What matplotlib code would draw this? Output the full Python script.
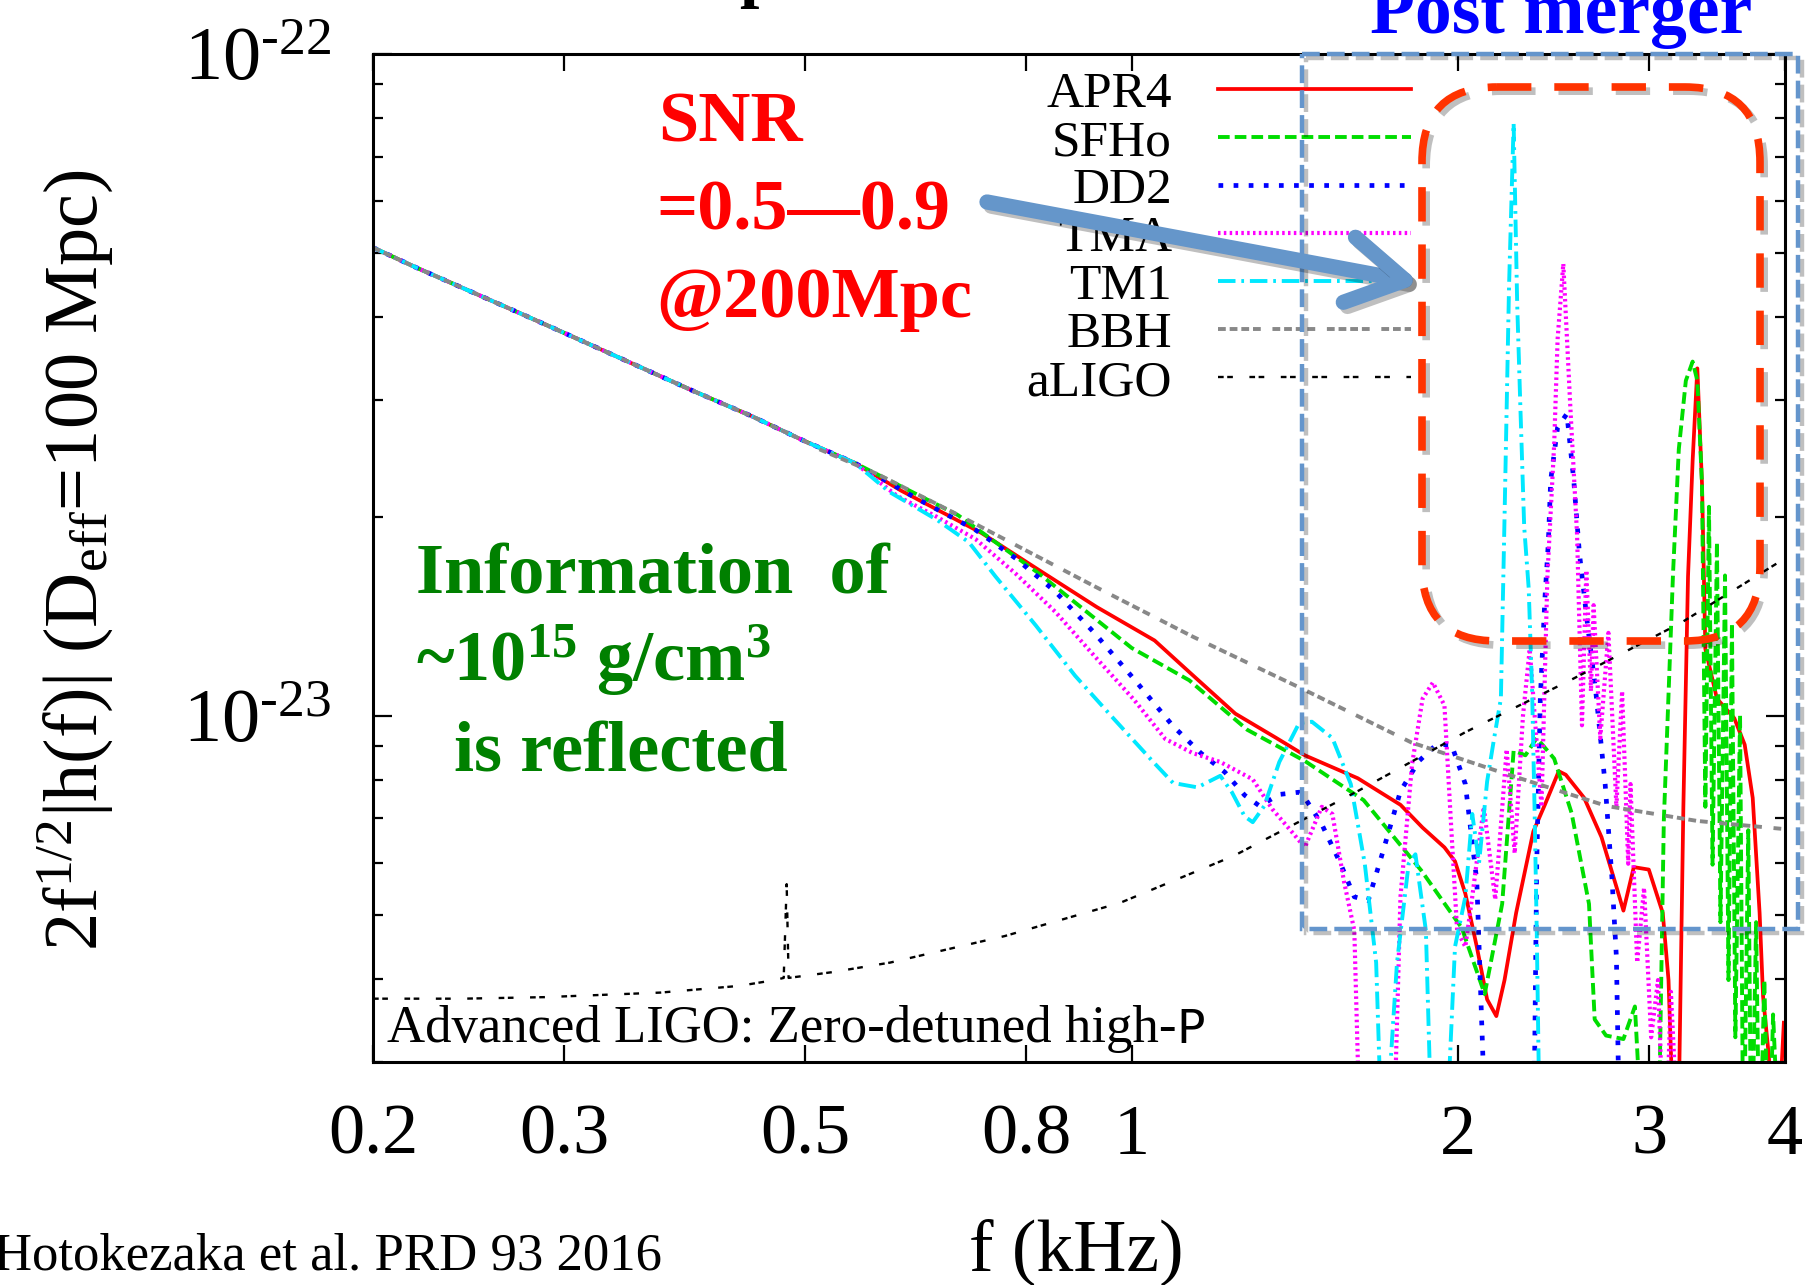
import matplotlib
matplotlib.use('Agg')
import matplotlib.pyplot as plt
import matplotlib.patches as mpatches
import matplotlib.patheffects as pe
from matplotlib.ticker import FixedLocator, LogLocator, NullFormatter

plt.rcParams['font.family'] = 'Liberation Serif'
plt.rcParams['mathtext.fontset'] = 'custom'
plt.rcParams['mathtext.rm'] = 'Liberation Serif'
plt.rcParams['mathtext.it'] = 'Liberation Serif:italic'
plt.rcParams['mathtext.bf'] = 'Liberation Serif:bold'

# frequency in kHz, amplitude 2 f^1/2 |h(f)| in units of 1e-23
# inspiral part, common to every model
f_insp = [0.200, 0.219, 0.242, 0.273, 0.300, 0.349, 0.394, 0.446, 0.500, 0.556]
h_insp = [5.10, 4.76, 4.43, 4.06, 3.79, 3.39, 3.10, 2.84, 2.60, 2.41]

f_apr4 = f_insp + [0.613, 0.727, 0.822, 0.929, 1.050, 1.130, 1.246, 1.358, 1.444, 1.616,
                   1.769, 1.854, 1.942, 1.986, 2.030, 2.080, 2.126, 2.168, 2.206, 2.261,
                   2.345, 2.403, 2.475, 2.512, 2.612, 2.710, 2.797, 2.839, 2.902, 2.996,
                   3.086, 3.124, 3.154, 3.185, 3.224, 3.256, 3.288, 3.321, 3.354, 3.378,
                   3.462, 3.592, 3.672, 3.735, 3.790, 3.818, 3.865, 3.923, 3.990]
h_apr4 = h_insp + [2.19, 1.89, 1.66, 1.46, 1.30, 1.165, 1.008, 0.927, 0.872, 0.805,
                   0.734, 0.678, 0.633, 0.603, 0.539, 0.448, 0.373, 0.352, 0.399, 0.504,
                   0.669, 0.734, 0.825, 0.815, 0.752, 0.656, 0.552, 0.508, 0.591, 0.586,
                   0.504, 0.399, 0.25, 0.20, 0.729, 1.625, 2.43, 3.35, 2.24, 1.262,
                   1.062, 0.992, 0.905, 0.752, 0.504, 0.377, 0.306, 0.20, 0.344]

f_sfho = f_insp + [0.692, 0.822, 1.000, 1.130, 1.278, 1.444, 1.636, 1.849, 2.015, 2.090,
                   2.115, 2.195, 2.249, 2.306, 2.362, 2.451, 2.543, 2.639, 2.671, 2.736,
                   2.839, 2.909, 2.966, 3.055, 3.093, 3.154, 3.193, 3.241, 3.288, 3.321,
                   3.354, 3.378, 3.404, 3.430, 3.462, 3.488, 3.522, 3.548, 3.574, 3.600,
                   3.636, 3.662, 3.700, 3.725, 3.762, 3.790, 3.828, 3.865, 3.900, 3.960]
h_sfho = h_insp + [2.01, 1.64, 1.267, 1.132, 0.953, 0.855, 0.746, 0.584, 0.478, 0.402,
                   0.380, 0.520, 0.886, 0.872, 0.926, 0.862, 0.714, 0.520, 0.348, 0.329,
                   0.325, 0.364, 0.20, 0.20, 0.694, 1.64, 2.53, 3.21, 3.43, 3.21,
                   2.24, 0.729, 2.07, 0.596, 1.83, 0.488, 1.63, 0.399, 1.38, 0.327,
                   1.004, 0.20, 0.672, 0.20, 0.488, 0.20, 0.399, 0.20, 0.354, 0.20]

f_dd2 = f_insp + [0.634, 0.718, 0.782, 0.851, 0.924, 1.005, 1.092, 1.158, 1.219, 1.271,
                  1.312, 1.368, 1.427, 1.444, 1.497, 1.558, 1.604, 1.652, 1.705, 1.769,
                  1.840, 1.909, 1.971, 2.030, 2.080, 2.126, 2.244, 2.345, 2.362, 2.380,
                  2.403, 2.421, 2.433, 2.469, 2.518, 2.555, 2.586, 2.630, 2.677, 2.731,
                  2.770, 2.797, 2.820]
h_dd2 = h_insp + [2.13, 1.91, 1.73, 1.54, 1.335, 1.137, 0.965, 0.879, 0.822, 0.759,
                  0.731, 0.761, 0.767, 0.752, 0.686, 0.598, 0.533, 0.526, 0.625, 0.770,
                  0.855, 0.905, 0.905, 0.789, 0.563, 0.20, 0.20, 0.20, 0.598, 1.062,
                  1.50, 1.83, 2.27, 2.73, 2.86, 2.27, 1.76, 1.38, 1.09, 0.789,
                  0.573, 0.432, 0.20]

f_tma = f_insp + [0.608, 0.661, 0.718, 0.782, 0.851, 0.924, 1.005, 1.074, 1.138, 1.207,
                  1.293, 1.348, 1.406, 1.444, 1.497, 1.531, 1.569, 1.604, 1.627, 1.740,
                  1.769, 1.813, 1.854, 1.895, 1.942, 1.971, 1.995, 2.030, 2.060, 2.111,
                  2.163, 2.216, 2.254, 2.294, 2.327, 2.386, 2.416, 2.451, 2.469, 2.499,
                  2.537, 2.573, 2.600, 2.624, 2.650, 2.665, 2.703, 2.750, 2.797, 2.831,
                  2.868, 2.882, 2.923, 2.966, 3.011, 3.055, 3.100, 3.140, 3.200]
h_tma = h_insp + [2.15, 2.00, 1.85, 1.64, 1.435, 1.232, 1.058, 0.923, 0.879, 0.852,
                  0.802, 0.723, 0.667, 0.633, 0.729, 0.711, 0.563, 0.474, 0.20, 0.20,
                  0.533, 0.845, 1.062, 1.123, 1.037, 0.669, 0.474, 0.448, 0.533, 0.729,
                  0.528, 0.890, 0.620, 1.00, 1.262, 0.729, 1.625, 2.57, 3.71, 4.82,
                  2.91, 1.88, 0.968, 1.66, 1.09, 1.47, 0.926, 1.335, 0.729, 1.09,
                  0.598, 0.789, 0.424, 0.550, 0.327, 0.399, 0.20, 0.383, 0.20]

f_tm1 = f_insp + [0.598, 0.661, 0.708, 0.749, 0.816, 0.887, 0.964, 1.047, 1.092, 1.150,
                  1.207, 1.237, 1.271, 1.293, 1.325, 1.368, 1.427, 1.466, 1.531, 1.592,
                  1.640, 1.680, 1.705, 1.756, 1.800, 1.826, 1.867, 1.895, 1.942, 1.986,
                  2.030, 2.060, 2.090, 2.126, 2.158, 2.189, 2.206, 2.227, 2.249, 2.266,
                  2.282, 2.300, 2.322, 2.339, 2.351, 2.362, 2.380]
h_tm1 = h_insp + [2.18, 1.98, 1.83, 1.625, 1.37, 1.15, 0.988, 0.852, 0.792, 0.780,
                  0.812, 0.767, 0.705, 0.691, 0.731, 0.852, 0.976, 0.98, 0.926, 0.789,
                  0.598, 0.424, 0.20, 0.424, 0.598, 0.618, 0.474, 0.20, 0.20, 0.448,
                  0.533, 0.711, 0.60, 0.796, 0.926, 1.062, 1.99, 4.43, 7.86, 4.20,
                  2.89, 1.93, 1.56, 1.09, 0.729, 0.474, 0.20]

f_bbh = f_insp[:-1] + [0.515, 0.583, 0.689, 0.924, 1.138, 1.441, 1.810, 2.190, 2.740, 3.320, 3.980]
h_bbh = h_insp[:-1] + [2.53, 2.32, 2.02, 1.57, 1.318, 1.096, 0.912, 0.822, 0.731, 0.694, 0.675]

f_aligo = [0.200, 0.242, 0.288, 0.368, 0.435, 0.469, 0.478, 0.481, 0.483, 0.529,
           0.599, 0.764, 0.976, 1.243, 1.616, 2.030, 2.549, 3.209, 4.000]
h_aligo = [0.374, 0.374, 0.376, 0.382, 0.391, 0.399, 0.402, 0.557, 0.402, 0.410,
           0.424, 0.465, 0.522, 0.615, 0.770, 0.945, 1.137, 1.383, 1.73]

labels = ['APR4', 'SFHo', 'DD2', 'TMA', 'TM1', 'BBH', 'aLIGO']
freqs = [f_apr4, f_sfho, f_dd2, f_tma, f_tm1, f_bbh, f_aligo]
amps = [h_apr4, h_sfho, h_dd2, h_tma, h_tm1, h_bbh, h_aligo]

xtick_vals = [0.2, 0.3, 0.5, 0.8, 1, 2, 3, 4]
xtick_text = ['0.2', '0.3', '0.5', '0.8', '1', '2', '3', '4']

styles = {
    'APR4': dict(color='#ff0000', ls='-', lw=2.7),
    'SFHo': dict(color='#00dd00', ls=(0, (3, 1.3)), lw=2.8),
    'DD2': dict(color='#0000ff', ls=(0, (1, 2.2)), lw=3.4),
    'TMA': dict(color='#ff00ff', ls=(0, (0.6, 0.8)), lw=3.0),
    'TM1': dict(color='#00e8ff', ls=(0, (4.5, 1.5, 0.7, 1.5)), lw=2.8),
    'BBH': dict(color='#888888', ls=(0, (2, 1, 2, 1, 2, 1, 2, 3)), lw=2.8),
    'aLIGO': dict(color='black', ls=(0, (2.4, 1.5, 2.4, 7)), lw=1.7),
}

fig = plt.figure(figsize=(18.1, 12.85), dpi=100)
ax = fig.add_axes([0.2061, 0.1735, 0.7801, 0.7845])

for name, f, h in zip(labels, freqs, amps):
    ax.plot(f, [v * 1e-23 for v in h], label=name, **styles[name])

ax.set_xscale('log')
ax.set_yscale('log')
ax.set_xlim(0.2, 4)
ax.set_ylim(3.0e-24, 1e-22)

ax.xaxis.set_major_locator(FixedLocator(xtick_vals))
ax.xaxis.set_minor_locator(FixedLocator([]))
ax.set_xticklabels(xtick_text)
ax.yaxis.set_major_locator(FixedLocator([1e-23, 1e-22]))
ax.set_yticklabels([r'10$^{\text{-23}}$', r'10$^{\text{-22}}$'])
ax.yaxis.set_minor_locator(LogLocator(base=10, subs=range(2, 10)))
ax.yaxis.set_minor_formatter(NullFormatter())

ax.tick_params(which='both', direction='in', top=True, right=True, width=1.6)
ax.tick_params(axis='x', which='major', length=12, labelsize=52, pad=30)
ax.tick_params(axis='y', which='major', length=14, labelsize=55, pad=30)
ax.tick_params(axis='y', which='minor', length=7)
for s in ax.spines.values():
    s.set_linewidth(2.2)

leg = ax.legend(loc='upper right', bbox_to_anchor=(0.735, 0.983), frameon=False,
                markerfirst=False, fontsize=37, handlelength=3.75, handletextpad=0.9,
                labelspacing=0.02, borderpad=0, borderaxespad=0)

# overlay in figure pixels for annotations
ov = fig.add_axes([0, 0, 1, 1], zorder=5)
ov.set_xlim(0, 1810)
ov.set_ylim(1285, 0)
ov.axis('off')
ov.patch.set_alpha(0)

shadow = [pe.SimpleLineShadow(offset=(3, -3), shadow_color='k', alpha=0.25), pe.Normal()]

ov.add_patch(mpatches.Rectangle((1302, 54), 496, 875, fill=False, ec='#6495cc', lw=3.2,
                                ls=(0, (4, 1.6)), path_effects=shadow))
ov.add_patch(mpatches.FancyBboxPatch((1422, 87), 338, 554, boxstyle='round,pad=0,rounding_size=75',
                                     fill=False, ec='#ff3300', lw=5.5, ls=(0, (4.5, 3)),
                                     path_effects=shadow))
ov.annotate('', xy=(1420, 283), xytext=(987, 202),
            arrowprops=dict(arrowstyle='->,head_length=1.2,head_width=0.7', lw=11,
                            color='#6596ca', mutation_scale=34, shrinkA=0, shrinkB=0,
                            capstyle='round', joinstyle='round', path_effects=shadow))

# partly cropped titles
ov.text(739, -6, 'p', fontsize=50, fontweight='bold', va='baseline', ha='left')
ov.text(1370, 33, 'Post merger', fontsize=53, fontweight='bold', color='#0000ff', va='baseline')

red = '#ff0000'
ov.text(658, 141, 'SNR', fontsize=52, fontweight='bold', color=red, va='baseline')
ov.text(656, 229, '=0.5\u20140.9', fontsize=52, fontweight='bold', color=red, va='baseline')
ov.text(656, 317, '@200Mpc', fontsize=52, fontweight='bold', color=red, va='baseline')

green = '#008000'
ov.text(416, 594, 'Information  of', fontsize=52, fontweight='bold', color=green, va='baseline')
ov.text(416, 681, r'~10$^{\mathbf{15}}$ g/cm$^{\mathbf{3}}$', fontsize=52, fontweight='bold',
        color=green, va='baseline')
ov.text(454, 771, 'is reflected', fontsize=52, fontweight='bold', color=green, va='baseline')

t = ov.text(387, 1042, 'Advanced LIGO: Zero-detuned high-', fontsize=38, va='baseline')
ov.annotate('P', xy=(1, 0), xycoords=t, fontsize=34, family='DejaVu Sans', va='bottom', ha='left')

ov.text(75, 560, r'2f$^{\mathrm{1/2}}$|h(f)| (D$_{\mathrm{eff}}$=100 Mpc)', fontsize=55,
        rotation=90, ha='center', va='center')
ov.text(1076, 1270, 'f (kHz)', fontsize=53, ha='center', va='baseline')
ov.text(-6, 1270, 'Hotokezaka et al. PRD 93 2016', fontsize=38, va='baseline')

fig.savefig('out.png', dpi=100)
